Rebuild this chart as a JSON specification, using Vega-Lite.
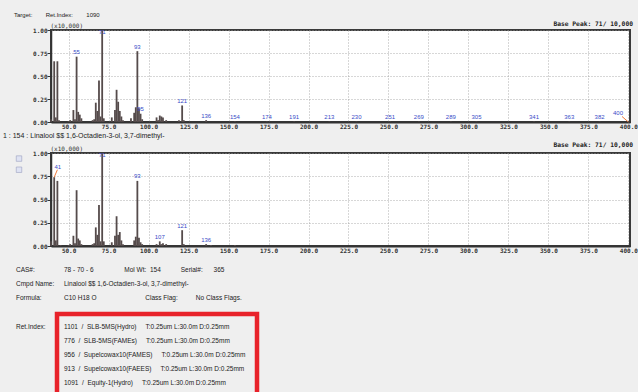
{
  "$schema": "https://vega.github.io/schema/vega-lite/v6.json",
  "background": "#efefef",
  "padding": {"left": 2, "top": 11, "right": 8, "bottom": 0},
  "bounds": "flush",
  "spacing": 31,
  "config": {
    "font": "Liberation Sans",
    "view": {"fill": "white", "stroke": "#3a3a3a", "strokeWidth": 2},
    "axis": {
      "labelFont": "DejaVu Sans Mono", "labelFontSize": 6, "labelFontWeight": "bold", "labelColor": "#333",
      "domainColor": "#333", "tickColor": "#333",
      "gridColor": "#9a9a9a", "gridDash": [1, 2], "gridWidth": 0.8,
      "titleFont": "DejaVu Sans Mono", "titleFontSize": 6, "titleFontWeight": "normal", "titleColor": "#333"
    },
    "axisX": {"domainWidth": 2, "ticks": false, "labelPadding": 1, "labelFlush": false, "labelDx": -2, "labelOverlap": false},
    "axisY": {"domainWidth": 1.5, "tickSize": 4, "labelPadding": 0, "labelOverlap": false}
  },
  "datasets": {
    "target": [
      {"mz": 39, "intensity": 0.03}, {"mz": 41, "intensity": 0.66}, {"mz": 42, "intensity": 0.05}, {"mz": 43, "intensity": 0.66},
      {"mz": 44, "intensity": 0.02}, {"mz": 50, "intensity": 0.01}, {"mz": 51, "intensity": 0.02}, {"mz": 53, "intensity": 0.13},
      {"mz": 54, "intensity": 0.03}, {"mz": 55, "intensity": 0.71, "label": "55"}, {"mz": 56, "intensity": 0.11}, {"mz": 57, "intensity": 0.08},
      {"mz": 58, "intensity": 0.04}, {"mz": 65, "intensity": 0.02}, {"mz": 66, "intensity": 0.03}, {"mz": 67, "intensity": 0.21},
      {"mz": 68, "intensity": 0.12}, {"mz": 69, "intensity": 0.45}, {"mz": 70, "intensity": 0.06}, {"mz": 71, "intensity": 1.0, "label": "71"},
      {"mz": 72, "intensity": 0.04}, {"mz": 77, "intensity": 0.05}, {"mz": 79, "intensity": 0.13}, {"mz": 80, "intensity": 0.35},
      {"mz": 81, "intensity": 0.22}, {"mz": 82, "intensity": 0.12}, {"mz": 83, "intensity": 0.06}, {"mz": 84, "intensity": 0.02},
      {"mz": 89, "intensity": 0.04}, {"mz": 91, "intensity": 0.1}, {"mz": 92, "intensity": 0.16}, {"mz": 93, "intensity": 0.77, "label": "93"},
      {"mz": 94, "intensity": 0.15}, {"mz": 95, "intensity": 0.09, "label": "95"}, {"mz": 96, "intensity": 0.03}, {"mz": 105, "intensity": 0.05},
      {"mz": 106, "intensity": 0.02}, {"mz": 107, "intensity": 0.07}, {"mz": 108, "intensity": 0.06}, {"mz": 109, "intensity": 0.05},
      {"mz": 111, "intensity": 0.02}, {"mz": 119, "intensity": 0.02}, {"mz": 121, "intensity": 0.18, "label": "121"}, {"mz": 122, "intensity": 0.02},
      {"mz": 136, "intensity": 0.02, "label": "136"}, {"mz": 154, "intensity": 0.005, "label": "154"}, {"mz": 174, "intensity": 0.005, "label": "174"},
      {"mz": 191, "intensity": 0.005, "label": "191"}, {"mz": 213, "intensity": 0.005, "label": "213"}, {"mz": 230, "intensity": 0.005, "label": "230"},
      {"mz": 251, "intensity": 0.005, "label": "251"}, {"mz": 269, "intensity": 0.005, "label": "269"}, {"mz": 289, "intensity": 0.005, "label": "289"},
      {"mz": 305, "intensity": 0.005, "label": "305"}, {"mz": 341, "intensity": 0.005, "label": "341"}, {"mz": 363, "intensity": 0.005, "label": "363"},
      {"mz": 382, "intensity": 0.005, "label": "382"}, {"mz": 400, "intensity": 0.005}
    ],
    "library": [
      {"mz": 39, "intensity": 0.05}, {"mz": 41, "intensity": 0.74}, {"mz": 42, "intensity": 0.06}, {"mz": 43, "intensity": 0.70},
      {"mz": 45, "intensity": 0.01}, {"mz": 50, "intensity": 0.01}, {"mz": 51, "intensity": 0.02}, {"mz": 53, "intensity": 0.11},
      {"mz": 54, "intensity": 0.03}, {"mz": 55, "intensity": 0.60}, {"mz": 56, "intensity": 0.08}, {"mz": 57, "intensity": 0.06},
      {"mz": 58, "intensity": 0.02}, {"mz": 65, "intensity": 0.02}, {"mz": 66, "intensity": 0.03}, {"mz": 67, "intensity": 0.20},
      {"mz": 68, "intensity": 0.12}, {"mz": 69, "intensity": 0.44}, {"mz": 70, "intensity": 0.05}, {"mz": 71, "intensity": 1.0, "label": "71"},
      {"mz": 72, "intensity": 0.05}, {"mz": 77, "intensity": 0.04}, {"mz": 79, "intensity": 0.11}, {"mz": 80, "intensity": 0.32},
      {"mz": 81, "intensity": 0.12}, {"mz": 82, "intensity": 0.15}, {"mz": 83, "intensity": 0.06}, {"mz": 84, "intensity": 0.02},
      {"mz": 91, "intensity": 0.06}, {"mz": 92, "intensity": 0.1}, {"mz": 93, "intensity": 0.70, "label": "93"}, {"mz": 94, "intensity": 0.09},
      {"mz": 95, "intensity": 0.04}, {"mz": 96, "intensity": 0.02}, {"mz": 105, "intensity": 0.02}, {"mz": 107, "intensity": 0.05, "label": "107"},
      {"mz": 108, "intensity": 0.02}, {"mz": 109, "intensity": 0.03}, {"mz": 111, "intensity": 0.02}, {"mz": 121, "intensity": 0.17, "label": "121"},
      {"mz": 122, "intensity": 0.02}, {"mz": 136, "intensity": 0.02, "label": "136"}, {"mz": 139, "intensity": 0.01}, {"mz": 154, "intensity": 0.01}
    ],
    "info": [
      {"line": 1, "col": "key", "text": "CAS#:"},
      {"line": 1, "col": "value", "text": "78 - 70 - 6\u00a0\u00a0\u00a0\u00a0\u00a0\u00a0\u00a0\u00a0\u00a0\u00a0\u00a0\u00a0\u00a0\u00a0\u00a0\u00a0\u00a0Mol Wt:\u00a0\u00a0154\u00a0\u00a0\u00a0\u00a0\u00a0\u00a0\u00a0\u00a0\u00a0\u00a0\u00a0Serial#:\u00a0\u00a0\u00a0\u00a0\u00a0\u00a0365"},
      {"line": 2, "col": "key", "text": "Cmpd Name:"},
      {"line": 2, "col": "value", "text": "Linalool $$ 1,6-Octadien-3-ol, 3,7-dimethyl-"},
      {"line": 3, "col": "key", "text": "Formula:"},
      {"line": 3, "col": "value", "text": "C10 H18 O\u00a0\u00a0\u00a0\u00a0\u00a0\u00a0\u00a0\u00a0\u00a0\u00a0\u00a0\u00a0\u00a0\u00a0\u00a0\u00a0\u00a0\u00a0\u00a0\u00a0\u00a0\u00a0\u00a0\u00a0\u00a0\u00a0\u00a0Class Flag:\u00a0\u00a0\u00a0\u00a0\u00a0\u00a0\u00a0\u00a0\u00a0\u00a0No Class Flags."},
      {"line": 5, "col": "key", "text": "Ret.Index:"},
      {"line": 5, "col": "value", "text": "1101\u00a0\u00a0/\u00a0\u00a0SLB-5MS(Hydro)\u00a0\u00a0\u00a0\u00a0\u00a0T:0.25um L:30.0m D:0.25mm"},
      {"line": 6, "col": "value", "text": "776\u00a0\u00a0/\u00a0\u00a0SLB-5MS(FAMEs)\u00a0\u00a0\u00a0\u00a0\u00a0T:0.25um L:30.0m D:0.25mm"},
      {"line": 7, "col": "value", "text": "956\u00a0\u00a0/\u00a0\u00a0Supelcowax10(FAMES)\u00a0\u00a0\u00a0\u00a0\u00a0T:0.25um L:30.0m D:0.25mm"},
      {"line": 8, "col": "value", "text": "913\u00a0\u00a0/\u00a0\u00a0Supelcowax10(FAEES)\u00a0\u00a0\u00a0\u00a0\u00a0T:0.25um L:30.0m D:0.25mm"},
      {"line": 9, "col": "value", "text": "1091\u00a0\u00a0/\u00a0\u00a0Equity-1(Hydro)\u00a0\u00a0\u00a0\u00a0\u00a0T:0.25um L:30.0m D:0.25mm"}
    ]
  },
  "vconcat": [
    {
      "width": 579,
      "height": 92,
      "title": {"text": "Target:\u00a0\u00a0\u00a0\u00a0\u00a0\u00a0\u00a0\u00a0Ret.Index:\u00a0\u00a0\u00a0\u00a0\u00a0\u00a0\u00a0\u00a01090", "anchor": "start", "frame": "group", "dx": -37, "offset": 0, "baseline": "middle", "fontSize": 6, "fontWeight": "normal", "color": "#222", "font": "Liberation Sans"},
      "data": {"name": "target"},
      "layer": [
        {
          "mark": {"type": "rule", "strokeWidth": 1.8, "color": "#554b4b"},
          "encoding": {
            "x": {"field": "mz", "type": "quantitative", "scale": {"domain": [39, 401], "nice": false, "zero": false},
                  "axis": {"values": [50, 75, 100, 125, 150, 175, 200, 225, 250, 275, 300, 325, 350, 375, 400], "tickCount": 30, "format": ".1f", "title": null, "grid": true}},
            "y": {"field": "intensity", "type": "quantitative", "scale": {"domain": [0, 1], "nice": false},
                  "axis": {"values": [0, 0.25, 0.5, 0.75, 1], "tickCount": 10, "format": ".2f", "title": "(x10,000)", "grid": true, "titleAngle": 0, "titleAlign": "left", "titleBaseline": "middle", "titleX": -1, "titleY": -5}},
            "y2": {"datum": 0}
          }
        },
        {
          "transform": [{"filter": {"field": "label", "valid": true}}, {"calculate": "min(datum.intensity, 0.93)", "as": "labelY"}],
          "mark": {"type": "text", "color": "#3a4cc8", "fontSize": 6, "dy": -4.5, "baseline": "middle"},
          "encoding": {
            "x": {"field": "mz", "type": "quantitative"},
            "y": {"field": "labelY", "type": "quantitative"},
            "text": {"field": "label"}
          }
        },
        {
          "data": {"values": [{"basePeak": "Base Peak:  71/ 10,000"}]},
          "mark": {"type": "text", "font": "DejaVu Sans Mono", "fontWeight": "bold", "fontSize": 6.3, "align": "right", "baseline": "middle", "dy": -6, "dx": 3, "color": "#222"},
          "encoding": {"x": {"datum": 401}, "y": {"datum": 1}, "text": {"field": "basePeak"}}
        },
        {
          "data": {"values": [{"peak": "400"}]},
          "mark": {"type": "rule", "color": "#f07a3a", "strokeWidth": 1},
          "encoding": {"x": {"datum": 396}, "y": {"datum": 0.06}, "x2": {"datum": 400}, "y2": {"datum": 0}}
        },
        {
          "data": {"values": [{"peak": "400"}]},
          "mark": {"type": "text", "color": "#3a4cc8", "fontSize": 6, "baseline": "middle"},
          "encoding": {"x": {"datum": 393.5}, "y": {"datum": 0.098}, "text": {"field": "peak"}}
        }
      ]
    },
    {
      "width": 579,
      "height": 93,
      "title": {"text": "1 : 154 : Linalool $$ 1,6-Octadien-3-ol, 3,7-dimethyl-", "anchor": "start", "frame": "group", "dx": -48, "offset": -1, "baseline": "middle", "fontSize": 7, "fontWeight": "normal", "color": "#222", "font": "Liberation Sans"},
      "data": {"name": "library"},
      "layer": [
        {
          "mark": {"type": "rule", "strokeWidth": 1.8, "color": "#554b4b"},
          "encoding": {
            "x": {"field": "mz", "type": "quantitative", "scale": {"domain": [39, 401], "nice": false, "zero": false},
                  "axis": {"values": [50, 75, 100, 125, 150, 175, 200, 225, 250, 275, 300, 325, 350, 375, 400], "tickCount": 30, "format": ".1f", "title": null, "grid": true}},
            "y": {"field": "intensity", "type": "quantitative", "scale": {"domain": [0, 1], "nice": false},
                  "axis": {"values": [0, 0.25, 0.5, 0.75, 1], "tickCount": 10, "format": ".2f", "title": "(x10,000)", "grid": true, "titleAngle": 0, "titleAlign": "left", "titleBaseline": "middle", "titleX": -1, "titleY": -5}},
            "y2": {"datum": 0}
          }
        },
        {
          "transform": [{"filter": {"field": "label", "valid": true}}, {"calculate": "min(datum.intensity, 0.93)", "as": "labelY"}],
          "mark": {"type": "text", "color": "#3a4cc8", "fontSize": 6, "dy": -4.5, "baseline": "middle"},
          "encoding": {
            "x": {"field": "mz", "type": "quantitative"},
            "y": {"field": "labelY", "type": "quantitative"},
            "text": {"field": "label"}
          }
        },
        {
          "data": {"values": [{"basePeak": "Base Peak:  71/ 10,000"}]},
          "mark": {"type": "text", "font": "DejaVu Sans Mono", "fontWeight": "bold", "fontSize": 6.3, "align": "right", "baseline": "middle", "dy": -8, "dx": 3, "color": "#222"},
          "encoding": {"x": {"datum": 401}, "y": {"datum": 1}, "text": {"field": "basePeak"}}
        },
        {
          "data": {"values": [{"peak": "41"}]},
          "mark": {"type": "rule", "color": "#f07a3a", "strokeWidth": 1},
          "encoding": {"x": {"datum": 41}, "y": {"datum": 0.74}, "x2": {"datum": 43}, "y2": {"datum": 0.82}}
        },
        {
          "data": {"values": [{"peak": "41"}]},
          "mark": {"type": "text", "color": "#3a4cc8", "fontSize": 6, "baseline": "middle"},
          "encoding": {"x": {"datum": 43.3}, "y": {"datum": 0.853}, "text": {"field": "peak"}}
        },
        {
          "data": {"values": [{"control": "zoom in"}]},
          "mark": {"type": "square", "size": 30, "fill": "#dfe3f3", "stroke": "#9aa0c0", "strokeWidth": 0.6, "opacity": 1},
          "encoding": {"x": {"datum": 19}, "y": {"datum": 0.94}}
        },
        {
          "data": {"values": [{"control": "zoom out"}]},
          "mark": {"type": "square", "size": 30, "fill": "#dfe3f3", "stroke": "#9aa0c0", "strokeWidth": 0.6, "opacity": 1},
          "encoding": {"x": {"datum": 19}, "y": {"datum": 0.82}}
        }
      ]
    },
    {
      "width": 1,
      "height": 6,
      "view": {"stroke": null, "fill": null},
      "data": {"values": [{"gap": ""}]},
      "mark": {"type": "text"},
      "encoding": {"text": {"field": "gap"}}
    },
    {
      "bounds": "flush",
      "spacing": 5,
      "hconcat": [
        {
          "width": 1,
          "height": 1,
          "view": {"stroke": null, "fill": null},
          "data": {"name": "info"},
          "mark": {"type": "text", "align": "left", "baseline": "middle", "fontSize": 6.5, "color": "#222"},
          "encoding": {
            "x": {"field": "col", "type": "nominal", "scale": {"type": "point", "domain": ["key", "value"], "range": [-35, 13], "padding": 0}, "axis": null},
            "y": {"field": "line", "type": "ordinal", "scale": {"type": "point", "domain": [1, 2, 3, 4, 5, 6, 7, 8, 9], "range": [-44, 69.3], "padding": 0}, "axis": null},
            "text": {"field": "text"}
          }
        },
        {
          "width": 200,
          "height": 85,
          "view": {"fill": null, "stroke": "#e8222a", "strokeWidth": 4.5},
          "data": {"values": [{"highlight": "retention indices"}]},
          "mark": {"type": "text"},
          "encoding": {"text": {"value": ""}}
        }
      ]
    }
  ]
}
